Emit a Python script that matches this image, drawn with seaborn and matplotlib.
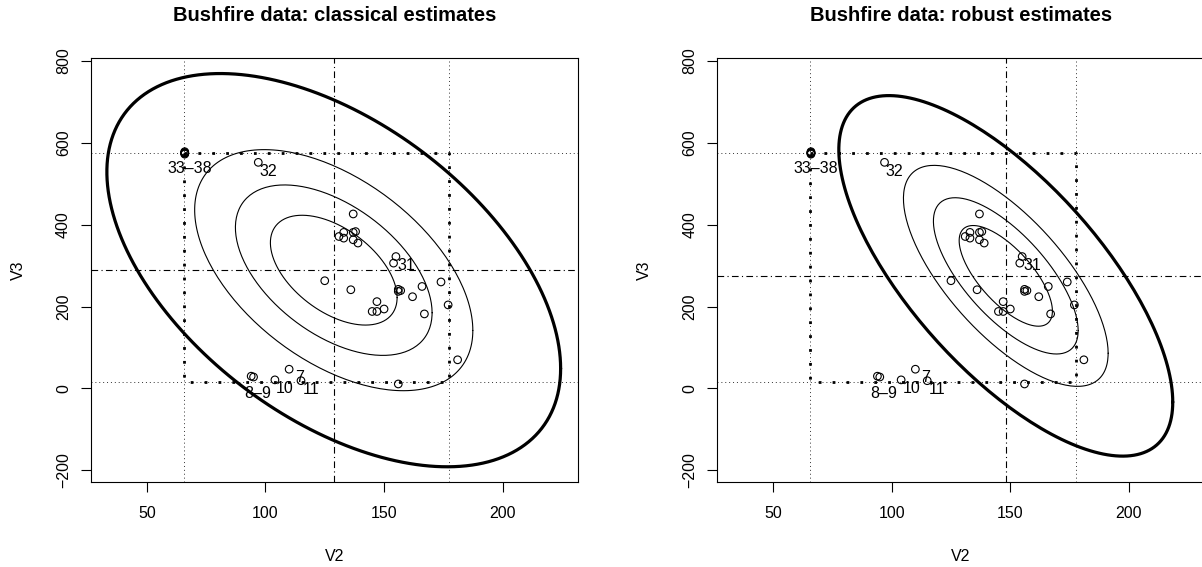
import numpy as np
import pandas as pd
import matplotlib
matplotlib.use('Agg')
import matplotlib.pyplot as plt
import seaborn as sns

sns.set_style('white')
plt.rcParams['font.family'] = ['Liberation Sans', 'DejaVu Sans']
plt.rcParams['text.color'] = 'black'
plt.rcParams['axes.labelcolor'] = 'black'
plt.rcParams['xtick.color'] = 'black'
plt.rcParams['ytick.color'] = 'black'

v2 = [137, 133, 137, 138, 131, 133,          # 1-6
      110, 94, 95, 104, 115,                  # 7-11
      137, 139, 154, 125, 136, 156, 156, 157, 166, 174, 162, 177,
      167, 147, 145, 147, 150, 181,           # 12-29
      ]
v3 = [426, 381, 381, 383, 371, 367,
      47, 30, 28, 21, 19,
      363, 355, 306, 263, 241, 242, 237, 239, 249, 260, 224, 204,
      182, 212, 188, 188, 194, 70,
      ]
v2 += [156, 155, 97, 66, 66, 66, 66, 66, 66]   # 30, 31, 32, 33-38
v3 += [11, 322, 552, 572, 574, 575, 576, 578, 575]

# estimates
center_cl = [128.8, 288.8]
cov_cl = [[1239, -3110], [-3110, 31223]]
center_rob = [148.1, 274.9]
cov_rob = [[671, -2937], [-2937, 26244]]
levels = [0.25, 0.5, 0.75]
level_outer = 0.975
box_x = [65.8, 177.5]
box_y = [16.6, 574.6]

labels = ['7', '10', '11', '31', '32']
label_idx = [6, 9, 10, 30, 31]

df = pd.DataFrame({'V2': v2, 'V3': v3})


def ellipse(center, cov, q, n=200):
    c = np.sqrt(-2 * np.log(1 - q))
    t = np.linspace(0, 2 * np.pi, n)
    L = np.linalg.cholesky(np.array(cov, dtype=float))
    pts = np.array(center)[:, None] + c * L @ np.vstack([np.cos(t), np.sin(t)])
    return pts[0], pts[1]


def panel(ax, center, cov, title):
    thin = dict(color='#333333', lw=0.7, linestyle=(0, (1, 3)))
    for xv in box_x:
        ax.axvline(xv, **thin)
    for yv in box_y:
        ax.axhline(yv, **thin)
    rx = [box_x[0], box_x[1], box_x[1], box_x[0], box_x[0]]
    ry = [box_y[1], box_y[1], box_y[0], box_y[0], box_y[1]]
    ax.plot(rx, ry, color='black', lw=2.0, linestyle=(0, (1, 4)))
    dd = dict(color='black', lw=0.8, linestyle=(0, (6, 3, 1, 3)))
    ax.axvline(center[0], **dd)
    ax.axhline(center[1], **dd)

    for q in levels:
        ex, ey = ellipse(center, cov, q)
        sns.lineplot(x=ex, y=ey, sort=False, estimator=None, color='black', lw=0.8, ax=ax)
    ex, ey = ellipse(center, cov, level_outer)
    sns.lineplot(x=ex, y=ey, sort=False, estimator=None, color='black', lw=2.3, ax=ax)

    sns.scatterplot(data=df, x='V2', y='V3', s=30, facecolor='none',
                    edgecolor='black', linewidth=0.8, ax=ax, zorder=5)

    for lab, i in zip(labels, label_idx):
        ax.annotate(lab, (v2[i], v3[i]), textcoords='offset points', xytext=(7.2, -6.3),
                    ha='center', va='center', fontsize=11.5)
    ax.annotate('8–9', ((v2[7] + v2[8]) / 2, (v3[7] + v3[8]) / 2), textcoords='offset points',
                xytext=(3.8, -12), ha='center', va='center', fontsize=11.5)
    ax.annotate('33–38', (v2[32], v3[32]), textcoords='offset points',
                xytext=(3.4, -10), ha='center', va='center', fontsize=11.5)

    ax.set_xlim(26.4, 231.9)
    ax.set_ylim(-229, 806)
    ax.set_xticks([50, 100, 150, 200])
    ax.set_yticks([-200, 0, 200, 400, 600, 800])
    ax.tick_params(direction='out', length=7.2, width=0.8, labelsize=11.5,
                   bottom=True, left=True, color='black', labelcolor='black')
    ax.tick_params(axis='x', pad=10)
    ax.tick_params(axis='y', pad=7)
    for lab in ax.get_yticklabels():
        lab.set_rotation(90)
        lab.set_va('center')
    for s in ax.spines.values():
        s.set_color('black')
        s.set_linewidth(0.8)
    ax.set_xlabel('V2', fontsize=11.5, color='black')
    ax.set_ylabel('V3', fontsize=11.5, color='black')
    ax.xaxis.set_label_coords(0.5, -0.176)
    ax.yaxis.set_label_coords(-0.149, 0.5)
    ax.xaxis.label.set_va('center')
    ax.yaxis.label.set_va('center')
    ax.set_title(title, fontsize=14.5, fontweight='bold', pad=27, color='black')


fig = plt.figure(figsize=(12.02, 5.67), dpi=100)
ax1 = fig.add_axes([0.0755, 0.1494, 0.4057, 0.7478])
ax2 = fig.add_axes([0.5965, 0.1494, 0.4057, 0.7478])
panel(ax1, center_cl, cov_cl, 'Bushfire data: classical estimates')
panel(ax2, center_rob, cov_rob, 'Bushfire data: robust estimates')

fig.savefig('out.png', dpi=100)
